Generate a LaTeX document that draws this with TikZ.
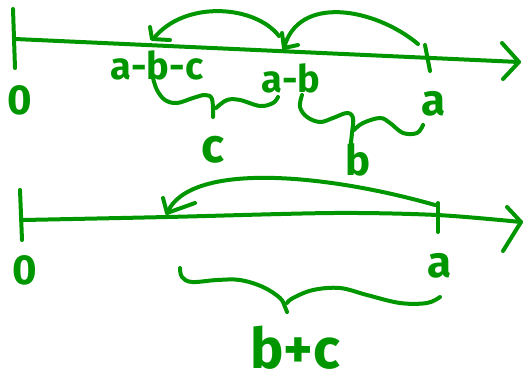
\documentclass[tikz,border=0pt]{standalone}
\usepackage{fontspec}
\setmainfont{Fira Sans}
\definecolor{ink}{RGB}{0,150,0}
\begin{document}
\begin{tikzpicture}[x=1pt,y=-1pt,
  pen/.style={draw=ink,line width=4pt,line cap=round,line join=round},
  lbl/.style={text=ink,inner sep=0pt,font=\bfseries\fontsize{#1}{#1}\selectfont},
  lbl/.default=40]
\useasboundingbox (0,0) rectangle (532,389);

% ---------- upper number line ----------
\coordinate (O1) at (15,39);
\coordinate (E1) at (519,62);
\coordinate (tA1) at (427,45);
\coordinate (pAB) at (284,48);
\coordinate (pABC) at (154,38);
\draw[pen] (O1) -- (E1);
\draw[pen] (13,9) -- (15,68);
\draw[pen] (502,43) -- (E1) -- (503,79);
\draw[pen] (425,45) -- (430,71);

\node[lbl=42] (zero1) at (20,100) {0};
\node[lbl=38] (abc) at (157,65) {a-b-c};
\node[lbl=38] (ab) at (291,78) {a-b};
\node[lbl=44] (a1) at (434,104) {a};

% jumps back along the upper line
\draw[pen] (418,44) .. controls (375,8) and (298,-6) .. (pAB);
\draw[pen] (282,33) -- (pAB) -- (298,45);
\draw[pen] (279,36) .. controls (255,5) and (185,0) .. (pABC);
\draw[pen] (150,27) -- (152,39) -- (170,40);

% braces under the upper line
\draw[pen] plot[smooth,tension=0.6] coordinates {(153,78) (157,90) (165,100) (177,103) (193,98) (205,95) (212,99) (213,117)};
\draw[pen] plot[smooth,tension=0.6] coordinates {(216,108) (227,100) (240,100) (260,106) (273,103) (278,97)};
\node[lbl=48] (c) at (213,150) {c};

\draw[pen] plot[smooth,tension=0.6] coordinates {(302,95) (300,107) (307,117) (320,122) (333,118) (347,113) (353,118) (352,133) (350,150)};
\draw[pen] plot[smooth,tension=0.6] coordinates {(354,130) (363,123) (380,118) (390,123) (403,133) (417,133) (423,125)};
\node[lbl=42] (b) at (358,160) {b};

% ---------- lower number line ----------
\coordinate (O2) at (23,220);
\coordinate (E2) at (521,222);
\coordinate (tA2) at (435,205);
\coordinate (pBC) at (167,213);
\draw[pen] plot[smooth,tension=0.5] coordinates {(O2) (167,217) (333,213) (437,215) (E2)};
\draw[pen] (20,190) -- (22,240);
\draw[pen] (507,207) -- (E2) -- (503,251);
\draw[pen] (438,203) -- (438,232);

\node[lbl=42] (zero2) at (25,270) {0};
\node[lbl=44] (a2) at (440,266) {a};

\draw[pen] (tA2) .. controls (330,175) and (190,160) .. (pBC);
\draw[pen] (163,198) -- (pBC) -- (195,203);

\draw[pen] plot[smooth,tension=0.6] coordinates {(180,268) (182,277) (192,282) (217,280) (240,280) (263,287) (280,298) (285,307) (287,312)};
\draw[pen] plot[smooth,tension=0.6] coordinates {(287,303) (293,298) (313,290) (340,288) (367,295) (400,303) (427,303) (440,297)};
\node[lbl=56] (bc) at (295,348) {b+c};
\end{tikzpicture}
\end{document}
